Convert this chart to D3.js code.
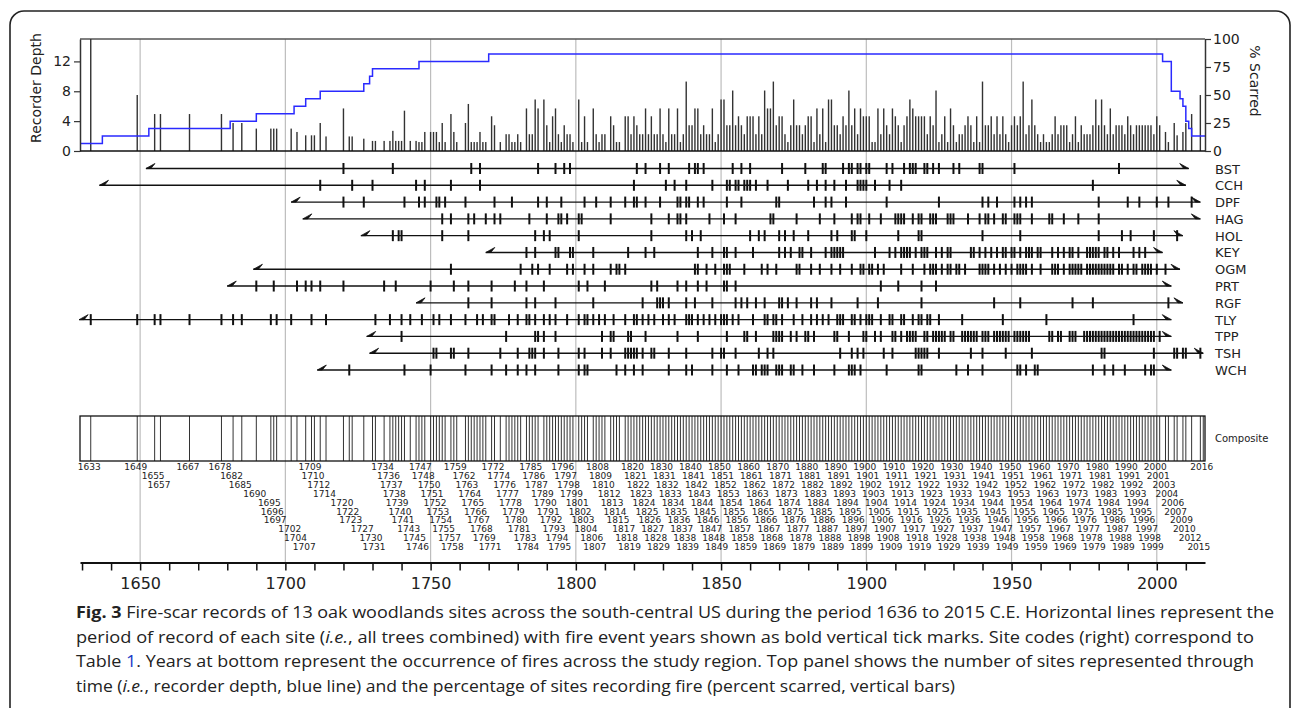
<!DOCTYPE html>
<html>
<head>
<meta charset="utf-8">
<script src="https://cdn.jsdelivr.net/npm/d3@7"></script>
<style>
body { margin: 0; background: #fff; }
svg text { font-family: "DejaVu Sans", Verdana, sans-serif; fill: #222; }
.caption text { font-family: "Open Sans", "Liberation Sans", sans-serif; }
</style>
</head>
<body>
<script>
/**
 * Fire-scar chart (13 oak woodland sites)
 */

const WIDTH = 1292;
const HEIGHT = 708;

// Site codes, period of record
const sites     = ["BST", "CCH", "DPF", "HAG", "HOL", "KEY", "OGM", "PRT", "RGF", "TLY", "TPP", "TSH", "WCH"];
const siteStart = [1652, 1636, 1702, 1706, 1726, 1769, 1689, 1680, 1745, 1629, 1728, 1729, 1711];
const siteEnd   = [2011, 2010, 2015, 2015, 2009, 2002, 2008, 2005, 2009, 2005, 2005, 2016, 2005];

// Fire event years per site
const fireBST = [1720, 1737, 1764, 1767, 1787, 1793, 1796, 1798, 1821, 1824, 1829, 1832, 1839, 1841, 1842, 1844, 1854, 1857, 1860, 1871, 1879, 1885, 1886, 1892, 1894, 1895, 1897, 1898, 1900, 1901, 1907, 1909, 1913, 1915, 1916, 1917, 1920, 1921, 1923, 1925, 1930, 1932, 1939, 1940, 1951, 1987];
const fireCCH = [1712, 1723, 1730, 1745, 1748, 1757, 1767, 1820, 1831, 1834, 1838, 1847, 1852, 1853, 1855, 1856, 1858, 1859, 1860, 1862, 1866, 1873, 1880, 1883, 1886, 1889, 1893, 1897, 1898, 1899, 1900, 1903, 1908, 1912, 1978];
const fireDPF = [1720, 1727, 1741, 1746, 1748, 1752, 1753, 1755, 1762, 1772, 1778, 1787, 1790, 1795, 1803, 1807, 1812, 1817, 1820, 1821, 1824, 1829, 1835, 1836, 1838, 1839, 1842, 1844, 1852, 1857, 1869, 1870, 1882, 1886, 1888, 1893, 1907, 1925, 1940, 1942, 1945, 1951, 1953, 1955, 1957, 1980, 1990, 1994, 2000, 2004, 2012];
const fireHAG = [1754, 1757, 1763, 1765, 1769, 1772, 1774, 1784, 1790, 1794, 1795, 1797, 1801, 1802, 1812, 1826, 1832, 1835, 1836, 1838, 1846, 1851, 1855, 1867, 1868, 1876, 1884, 1889, 1895, 1897, 1898, 1901, 1905, 1910, 1911, 1912, 1913, 1916, 1918, 1919, 1922, 1923, 1924, 1928, 1929, 1930, 1935, 1939, 1941, 1942, 1944, 1947, 1948, 1951, 1952, 1953, 1957, 1963, 1964, 1968, 1973, 1980];
const fireHOL = [1737, 1739, 1740, 1754, 1763, 1786, 1789, 1791, 1801, 1826, 1838, 1840, 1843, 1860, 1863, 1865, 1870, 1872, 1875, 1880, 1888, 1890, 1895, 1896, 1900, 1911, 1918, 1919, 1940, 1953, 1980, 1988, 1991, 1999, 2007];
const fireKEY = [1783, 1786, 1793, 1794, 1798, 1799, 1806, 1818, 1824, 1827, 1842, 1847, 1851, 1852, 1855, 1861, 1870, 1872, 1874, 1877, 1878, 1881, 1886, 1888, 1889, 1890, 1891, 1892, 1903, 1908, 1910, 1912, 1913, 1914, 1915, 1917, 1919, 1920, 1921, 1924, 1926, 1928, 1929, 1936, 1937, 1939, 1941, 1943, 1945, 1947, 1948, 1950, 1951, 1953, 1955, 1956, 1957, 1959, 1960, 1964, 1966, 1968, 1970, 1971, 1973, 1976, 1977, 1978, 1979, 1980, 1982, 1983, 1985, 1987, 1992, 1994, 1996];
const fireOGM = [1757, 1781, 1785, 1787, 1791, 1797, 1799, 1803, 1806, 1812, 1814, 1815, 1817, 1841, 1842, 1845, 1848, 1851, 1852, 1853, 1858, 1864, 1866, 1869, 1876, 1877, 1881, 1884, 1888, 1891, 1895, 1898, 1899, 1901, 1902, 1904, 1906, 1912, 1916, 1920, 1922, 1923, 1924, 1926, 1928, 1929, 1931, 1932, 1934, 1939, 1940, 1941, 1942, 1944, 1946, 1948, 1950, 1952, 1953, 1954, 1955, 1957, 1960, 1964, 1965, 1966, 1968, 1970, 1971, 1972, 1973, 1974, 1976, 1977, 1978, 1979, 1980, 1981, 1982, 1983, 1984, 1985, 1987, 1988, 1990, 1992, 1993, 1995, 1996, 1997, 1998, 2000, 2003];
const firePRT = [1690, 1696, 1704, 1707, 1709, 1712, 1720, 1734, 1738, 1750, 1758, 1763, 1771, 1779, 1783, 1789, 1801, 1804, 1810, 1826, 1828, 1835, 1838, 1842, 1845, 1851, 1852, 1855, 1905, 1911, 1919, 1924];
const fireRGF = [1763, 1771, 1783, 1786, 1793, 1806, 1823, 1828, 1829, 1830, 1832, 1838, 1841, 1847, 1855, 1857, 1859, 1862, 1865, 1870, 1871, 1873, 1876, 1881, 1883, 1888, 1897, 1904, 1919, 1944, 1953, 1971, 1978, 2004];
const fireTLY = [1633, 1649, 1655, 1657, 1667, 1678, 1682, 1685, 1695, 1697, 1702, 1709, 1714, 1731, 1736, 1740, 1743, 1747, 1751, 1753, 1757, 1762, 1766, 1768, 1771, 1772, 1777, 1780, 1783, 1784, 1786, 1789, 1791, 1793, 1797, 1801, 1803, 1804, 1806, 1808, 1810, 1813, 1817, 1820, 1821, 1823, 1825, 1827, 1830, 1832, 1834, 1838, 1839, 1840, 1842, 1844, 1846, 1848, 1850, 1851, 1852, 1854, 1856, 1861, 1865, 1866, 1868, 1869, 1871, 1875, 1878, 1881, 1883, 1885, 1887, 1890, 1891, 1892, 1895, 1896, 1898, 1900, 1901, 1902, 1905, 1908, 1909, 1912, 1913, 1916, 1918, 1919, 1921, 1922, 1925, 1933, 1947, 1962, 1992];
const fireTPP = [1740, 1776, 1786, 1787, 1789, 1793, 1809, 1812, 1813, 1818, 1819, 1824, 1835, 1842, 1852, 1858, 1859, 1862, 1868, 1869, 1870, 1871, 1874, 1876, 1879, 1880, 1882, 1889, 1890, 1894, 1899, 1900, 1903, 1905, 1909, 1910, 1912, 1914, 1915, 1916, 1917, 1920, 1921, 1923, 1924, 1925, 1926, 1927, 1929, 1930, 1933, 1934, 1935, 1936, 1937, 1938, 1940, 1941, 1942, 1944, 1945, 1946, 1947, 1948, 1949, 1951, 1952, 1953, 1954, 1955, 1956, 1963, 1964, 1966, 1967, 1970, 1971, 1972, 1975, 1976, 1977, 1978, 1979, 1980, 1981, 1982, 1983, 1984, 1985, 1986, 1987, 1988, 1989, 1990, 1991, 1992, 1993, 1994, 1995, 1996, 1997, 1998, 1999, 2001];
const fireTSH = [1751, 1752, 1757, 1758, 1763, 1774, 1780, 1784, 1785, 1786, 1789, 1794, 1801, 1803, 1809, 1812, 1817, 1818, 1819, 1820, 1821, 1823, 1826, 1827, 1832, 1838, 1847, 1850, 1851, 1855, 1863, 1866, 1868, 1891, 1895, 1897, 1899, 1906, 1909, 1917, 1918, 1919, 1920, 1921, 1925, 1936, 1940, 1948, 1957, 1981, 1982, 1999, 2006, 2007, 2009, 2010, 2015];
const fireWCH = [1722, 1741, 1750, 1762, 1771, 1776, 1780, 1783, 1786, 1794, 1801, 1803, 1804, 1814, 1817, 1820, 1823, 1832, 1838, 1840, 1847, 1852, 1856, 1861, 1862, 1864, 1865, 1866, 1869, 1870, 1871, 1874, 1875, 1878, 1882, 1889, 1894, 1895, 1896, 1898, 1907, 1918, 1919, 1931, 1935, 1940, 1952, 1953, 1955, 1958, 1959, 1978, 1982, 1985, 1989, 1996, 1998, 1999];

const fireYears = [fireBST, fireCCH, fireDPF, fireHAG, fireHOL, fireKEY, fireOGM, firePRT, fireRGF, fireTLY, fireTPP, fireTSH, fireWCH];

// Composite fire years (bottom labels) and percent scarred for the same years
const compositeYears = [
    1633, 1649, 1655, 1657, 1667, 1678, 1682, 1685, 1690, 1695, 1696, 1697, 1702, 1704, 1707,
    1709, 1710, 1712, 1714, 1720, 1722, 1723, 1727, 1730, 1731,
    1734, 1736, 1737, 1738, 1739, 1740, 1741, 1743, 1745, 1746,
    1747, 1748, 1750, 1751, 1752, 1753, 1754, 1755, 1757, 1758,
    1759, 1762, 1763, 1764, 1765, 1766, 1767, 1768, 1769, 1771,
    1772, 1774, 1776, 1777, 1778, 1779, 1780, 1781, 1783, 1784,
    1785, 1786, 1787, 1789, 1790, 1791, 1792, 1793, 1794, 1795,
    1796, 1797, 1798, 1799, 1801, 1802, 1803, 1804, 1806, 1807,
    1808, 1809, 1810, 1812, 1813, 1814, 1815, 1817, 1818, 1819,
    1820, 1821, 1822, 1823, 1824, 1825, 1826, 1827, 1828, 1829,
    1830, 1831, 1832, 1833, 1834, 1835, 1836, 1837, 1838, 1839,
    1840, 1841, 1842, 1843, 1844, 1845, 1846, 1847, 1848, 1849,
    1850, 1851, 1852, 1853, 1854, 1855, 1856, 1857, 1858, 1859,
    1860, 1861, 1862, 1863, 1864, 1865, 1866, 1867, 1868, 1869,
    1870, 1871, 1872, 1873, 1874, 1875, 1876, 1877, 1878, 1879,
    1880, 1881, 1882, 1883, 1884, 1885, 1886, 1887, 1888, 1889,
    1890, 1891, 1892, 1893, 1894, 1895, 1896, 1897, 1898, 1899,
    1900, 1901, 1902, 1903, 1904, 1905, 1906, 1907, 1908, 1909,
    1910, 1911, 1912, 1913, 1914, 1915, 1916, 1917, 1918, 1919,
    1920, 1921, 1922, 1923, 1924, 1925, 1926, 1927, 1928, 1929,
    1930, 1931, 1932, 1933, 1934, 1935, 1936, 1937, 1938, 1939,
    1940, 1941, 1942, 1943, 1944, 1945, 1946, 1947, 1948, 1949,
    1950, 1951, 1952, 1953, 1954, 1955, 1956, 1957, 1958, 1959,
    1960, 1961, 1962, 1963, 1964, 1965, 1966, 1967, 1968, 1969,
    1970, 1971, 1972, 1973, 1974, 1975, 1976, 1977, 1978, 1979,
    1980, 1981, 1982, 1983, 1984, 1985, 1986, 1987, 1988, 1989,
    1990, 1991, 1992, 1993, 1994, 1995, 1996, 1997, 1998, 1999,
    2000, 2001, 2003, 2004, 2006, 2007, 2009, 2010, 2012, 2015,
    2016
];
const pctScarred = [
    100, 50, 33, 33, 33, 33, 25, 25, 20, 20, 20, 20, 20, 17, 14,
    14, 14, 25, 13, 38, 13, 13, 11, 9, 9,
    9, 9, 18, 9, 9, 9, 36, 9, 9, 8,
    8, 17, 17, 17, 17, 8, 25, 8, 33, 17,
    8, 25, 42, 8, 8, 8, 17, 8, 8, 31,
    23, 8, 15, 15, 8, 8, 15, 8, 38, 15,
    15, 46, 38, 46, 23, 8, 31, 38, 15, 8,
    23, 15, 15, 8, 46, 8, 31, 8, 38, 15,
    8, 15, 15, 31, 23, 8, 8, 31, 31, 15,
    31, 23, 15, 15, 38, 15, 31, 15, 15, 38,
    15, 8, 38, 15, 15, 38, 8, 15, 62, 23,
    23, 38, 38, 15, 23, 15, 15, 38, 8, 15,
    46, 46, 23, 23, 54, 23, 31, 23, 15, 31,
    31, 31, 15, 31, 15, 54, 38, 38, 62, 23,
    31, 31, 15, 8, 23, 46, 23, 23, 15, 23,
    31, 31, 8, 38, 15, 38, 8, 46, 46, 23,
    23, 15, 31, 23, 54, 23, 38, 15, 38, 31,
    31, 31, 8, 8, 38, 15, 38, 23, 15, 38,
    31, 23, 8, 23, 31, 46, 38, 31, 31, 31,
    31, 15, 31, 23, 54, 8, 15, 31, 8, 38,
    23, 8, 15, 15, 23, 31, 23, 8, 31, 8,
    62, 23, 23, 31, 15, 31, 15, 31, 15, 8,
    23, 31, 23, 31, 62, 15, 23, 46, 23, 15,
    8, 15, 8, 8, 15, 31, 15, 23, 23, 23,
    8, 15, 31, 8, 23, 15, 15, 15, 23, 46,
    23, 46, 23, 15, 38, 15, 23, 23, 23, 15,
    31, 23, 15, 23, 23, 23, 23, 23, 23, 15,
    31, 23, 17, 8, 25, 14, 17, 25, 33, 50,
    0
];

// Recorder depth (number of sites), as steps
const depthYears  = [1629.3, 1637, 1653, 1681, 1690, 1703, 1707, 1712, 1727, 1729, 1730, 1746, 1770, 2002, 2005, 2008, 2009, 2010, 2011, 2012, 2016.6];
const depthValues = [1, 2, 3, 4, 5, 6, 7, 8, 9, 10, 11, 12, 13, 12, 8, 7, 6, 4, 3, 2, 2];

const depthTicks = [0, 4, 8, 12];
const pctTicks = [0, 25, 50, 75, 100];
const gridYears = [1650, 1700, 1750, 1800, 1850, 1900, 1950, 2000];
const axisTicks = [1630, 1640, 1650, 1660, 1670, 1680, 1690, 1700, 1710, 1720, 1730, 1740, 1750, 1760, 1770, 1780, 1790, 1800, 1810, 1820, 1830, 1840, 1850, 1860, 1870, 1880, 1890, 1900, 1910, 1920, 1930, 1940, 1950, 1960, 1970, 1980, 1990, 2000, 2010];

/**
 * Layout
 */
const PLOT_LEFT = 80;
const PLOT_RIGHT = 1205;
const TOP_Y0 = 39;          // top panel top
const TOP_Y1 = 151;         // top panel baseline
const SITE_Y0 = 168.5;
const SITE_Y1 = 370;
const COMP_Y0 = 416;
const COMP_Y1 = 461;
const LABEL_ROW0 = 470;
const LABEL_ROW_STEP = 8.9;
const LABEL_W = 23;         // width of one year label, to stack overlapping ones
const AXIS_Y = 562.5;

const x = d3.scaleLinear().domain([1629.3, 2016.6]).range([PLOT_LEFT, PLOT_RIGHT]);
const yDepth = d3.scaleLinear().domain([0, 15]).range([TOP_Y1, TOP_Y0]);
const yPct = d3.scaleLinear().domain([0, 100]).range([TOP_Y1, TOP_Y0]);
const ySite = d3.scalePoint().domain(sites).range([SITE_Y0, SITE_Y1]);

const svg = initializeCanvas(WIDTH, HEIGHT, "white");

function drawFrame() {
    svg.append("rect")
        .attr("x", 10).attr("y", 11)
        .attr("width", 1280).attr("height", 740)
        .attr("rx", 14)
        .attr("fill", "none")
        .attr("stroke", "#222")
        .attr("stroke-width", 1.6);
}

function drawGrid() {
    svg.append("g").selectAll("line")
        .data(gridYears)
        .join("line")
        .attr("x1", d => x(d)).attr("x2", d => x(d))
        .attr("y1", TOP_Y0).attr("y2", AXIS_Y)
        .attr("stroke", "#bdbdbd")
        .attr("stroke-width", 1.2);
}

function drawTopPanel() {
    // border lines
    svg.append("line")
        .attr("x1", PLOT_LEFT).attr("x2", PLOT_RIGHT)
        .attr("y1", TOP_Y0).attr("y2", TOP_Y0)
        .attr("stroke", "#555").attr("stroke-width", 1.5);

    // percent scarred bars
    svg.append("g").selectAll("rect")
        .data(compositeYears.map((d, i) => ({ year: d, pct: pctScarred[i] })).filter(d => d.pct > 0))
        .join("rect")
        .attr("x", d => x(d.year) - 0.7)
        .attr("y", d => yPct(d.pct))
        .attr("width", 1.4)
        .attr("height", d => TOP_Y1 - yPct(d.pct))
        .attr("fill", "#333");

    // recorder depth
    const pts = depthYears.map((d, i) => [d, depthValues[i]]);
    svg.append("path")
        .datum(pts)
        .attr("fill", "none")
        .attr("stroke", "#2a2aff")
        .attr("stroke-width", 1.5)
        .attr("d", d3.line().x(d => x(d[0])).y(d => yDepth(d[1])).curve(d3.curveStepAfter));

    const left = svg.append("g")
        .attr("transform", `translate(${PLOT_LEFT},0)`)
        .call(d3.axisLeft(yDepth).tickValues(depthTicks).tickSize(6).tickSizeOuter(0));
    const right = svg.append("g")
        .attr("transform", `translate(${PLOT_RIGHT},0)`)
        .call(d3.axisRight(yPct).tickValues(pctTicks).tickSize(6).tickSizeOuter(0));
    [left, right].forEach(g => {
        g.select(".domain").attr("stroke", "#333").attr("stroke-width", 1.5);
        g.selectAll(".tick line").attr("stroke", "#333").attr("stroke-width", 1.2);
        g.selectAll("text").attr("font-size", 14).attr("fill", "#222")
            .attr("font-family", "DejaVu Sans, Verdana, sans-serif");
    });
    left.selectAll("text").attr("x", -9);
    right.selectAll("text").attr("x", 8);

    svg.append("line")
        .attr("x1", PLOT_LEFT).attr("x2", PLOT_RIGHT)
        .attr("y1", TOP_Y1).attr("y2", TOP_Y1)
        .attr("stroke", "#111").attr("stroke-width", 1.6);

    svg.append("text")
        .attr("transform", `translate(41,${(TOP_Y0 + TOP_Y1) / 2 - 7}) rotate(-90)`)
        .attr("text-anchor", "middle")
        .attr("font-size", 14)
        .text("Recorder Depth");
    svg.append("text")
        .attr("transform", `translate(1250,${(TOP_Y0 + TOP_Y1) / 2 - 14}) rotate(90)`)
        .attr("text-anchor", "middle")
        .attr("font-size", 14)
        .text("% Scarred");
}

function drawSites() {
    const g = svg.append("g");
    sites.forEach((s, i) => {
        const y = ySite(s);
        const x0 = x(siteStart[i]);
        const x1 = x(siteEnd[i]);
        g.append("line")
            .attr("x1", x0).attr("x2", x1)
            .attr("y1", y).attr("y2", y)
            .attr("stroke", "#111").attr("stroke-width", 1.4);
        // inner / outer ring markers
        g.append("path")
            .attr("d", `M${x0},${y} L${x0 + 9},${y - 5} L${x0 + 5},${y} Z`)
            .attr("fill", "#111").attr("stroke", "#111").attr("stroke-width", 0.8);
        g.append("path")
            .attr("d", `M${x1},${y} L${x1 - 9},${y - 5} L${x1 - 5},${y} Z`)
            .attr("fill", "#111").attr("stroke", "#111").attr("stroke-width", 0.8);
        g.append("g").selectAll("line")
            .data(fireYears[i])
            .join("line")
            .attr("x1", d => x(d)).attr("x2", d => x(d))
            .attr("y1", y - 5.5).attr("y2", y + 5.5)
            .attr("stroke", "#111").attr("stroke-width", 2);
        g.append("text")
            .attr("x", 1215).attr("y", y + 5)
            .attr("font-size", 13)
            .text(s);
    });
}

function drawComposite() {
    svg.append("g").selectAll("line")
        .data(compositeYears)
        .join("line")
        .attr("x1", d => x(d)).attr("x2", d => x(d))
        .attr("y1", COMP_Y0).attr("y2", COMP_Y1)
        .attr("stroke", "#333").attr("stroke-width", 1);
    svg.append("rect")
        .attr("x", PLOT_LEFT).attr("y", COMP_Y0)
        .attr("width", PLOT_RIGHT - PLOT_LEFT).attr("height", COMP_Y1 - COMP_Y0)
        .attr("fill", "none").attr("stroke", "#111").attr("stroke-width", 1.3);
    svg.append("text")
        .attr("x", 1215).attr("y", (COMP_Y0 + COMP_Y1) / 2 + 3)
        .attr("font-size", 10)
        .text("Composite");

    // year labels, stacked when they would overlap
    let row = 0;
    const rows = compositeYears.map((d, i) => {
        if (i > 0 && x(d) - x(compositeYears[i - 1]) < LABEL_W) row = (row + 1) % 10;
        else row = 0;
        return row;
    });
    svg.append("g").selectAll("text")
        .data(compositeYears)
        .join("text")
        .attr("x", d => x(d) - 1.5)
        .attr("y", (d, i) => LABEL_ROW0 + rows[i] * LABEL_ROW_STEP)
        .attr("text-anchor", "middle")
        .attr("font-size", 9)
        .attr("fill", "#333")
        .text(d => d);
}

function drawAxis() {
    const g = svg.append("g")
        .attr("transform", `translate(0,${AXIS_Y})`)
        .call(d3.axisBottom(x).tickValues(axisTicks).tickSize(8).tickSizeOuter(0)
            .tickFormat(d => d % 50 === 0 ? d : ""));
    g.select(".domain").attr("stroke", "#111").attr("stroke-width", 2);
    g.selectAll(".tick line").attr("stroke", "#111").attr("stroke-width", 1.5);
    g.selectAll("text").attr("font-size", 16).attr("dy", "0.95em").attr("fill", "#222")
        .attr("font-family", "DejaVu Sans, Verdana, sans-serif");
}

function drawCaption() {
    const g = svg.append("g").attr("class", "caption");
    const lines = [
        { y: 618, w: 1198, parts: [["Fig. 3", "bold"], [" Fire-scar records of 13 oak woodlands sites across the south-central US during the period 1636 to 2015 C.E. Horizontal lines represent the"]] },
        { y: 642.5, w: 1178, parts: [["period of record of each site ("], ["i.e.", "italic"], [", all trees combined) with fire event years shown as bold vertical tick marks. Site codes (right) correspond to"]] },
        { y: 667, w: 1178, parts: [["Table "], ["1", "link"], [". Years at bottom represent the occurrence of fires across the study region. Top panel shows the number of sites represented through"]] },
        { y: 691.5, w: 879, parts: [["time ("], ["i.e.", "italic"], [", recorder depth, blue line) and the percentage of sites recording fire (percent scarred, vertical bars)"]] }
    ];
    lines.forEach(l => {
        const t = g.append("text")
            .attr("x", 76).attr("y", l.y)
            .attr("font-size", 16)
            .attr("textLength", l.w)
            .attr("lengthAdjust", "spacingAndGlyphs");
        l.parts.forEach(p => {
            const ts = t.append("tspan").text(p[0]).attr("fill", "#222");
            if (p[1] === "bold") ts.attr("font-weight", "bold");
            if (p[1] === "italic") ts.attr("font-style", "italic");
            if (p[1] === "link") ts.attr("fill", "#1a3cc8");
        });
    });
}

function main() {
    drawFrame();
    drawGrid();
    drawTopPanel();
    drawSites();
    drawComposite();
    drawAxis();
    drawCaption();
}

/**
 * Returns an SVG Element of size w x h and filled with color
 */
function initializeCanvas(w, h, color) {
    const svgSpace = d3.select("body")
        .append("svg")
        .attr("width", w)
        .attr("height", h);
    if (color != null) {
        svgSpace.append("rect")
            .attr("width", "100%")
            .attr("height", "100%")
            .attr("fill", color);
    }
    return svgSpace;
}

main()
</script>
</body>
</html>
